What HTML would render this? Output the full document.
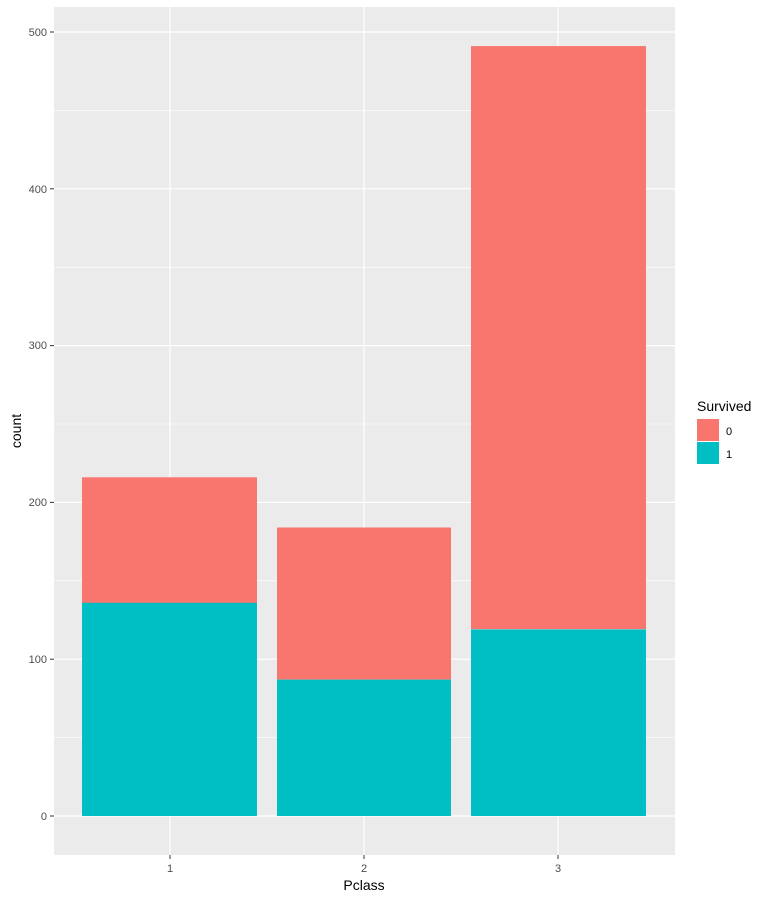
<!DOCTYPE html>
<html><head><meta charset="utf-8"><style>body{margin:0;background:#fff}</style></head>
<body>
<svg width="768" height="900" xmlns="http://www.w3.org/2000/svg" font-family="Liberation Sans, Arial, sans-serif">
<rect x="54" y="7" width="621" height="848" fill="#EBEBEB"/>
<g stroke="#fff" stroke-width="0.6">
<line x1="54" x2="675" y1="737.6" y2="737.6"/>
<line x1="54" x2="675" y1="580.8" y2="580.8"/>
<line x1="54" x2="675" y1="424" y2="424"/>
<line x1="54" x2="675" y1="267.2" y2="267.2"/>
<line x1="54" x2="675" y1="110.4" y2="110.4"/>
</g>
<g stroke="#fff" stroke-width="1.2">
<line x1="54" x2="675" y1="816" y2="816"/>
<line x1="54" x2="675" y1="659.2" y2="659.2"/>
<line x1="54" x2="675" y1="502.4" y2="502.4"/>
<line x1="54" x2="675" y1="345.6" y2="345.6"/>
<line x1="54" x2="675" y1="188.8" y2="188.8"/>
<line x1="54" x2="675" y1="32" y2="32"/>
<line x1="170" x2="170" y1="7" y2="855"/>
<line x1="364" x2="364" y1="7" y2="855"/>
<line x1="558" x2="558" y1="7" y2="855"/>
</g>
<g fill="#F8766D">
<rect x="82" y="477.3" width="175" height="126"/>
<rect x="277" y="527.5" width="174" height="152"/>
<rect x="471" y="46.1" width="175" height="583"/>
</g>
<g fill="#00BFC4">
<rect x="82" y="602.8" width="175" height="213.2"/>
<rect x="277" y="679.6" width="174" height="136.4"/>
<rect x="471" y="629.4" width="175" height="186.6"/>
</g>
<g stroke="#333" stroke-width="1">
<line x1="50" x2="54" y1="816" y2="816"/><line x1="50" x2="54" y1="659.2" y2="659.2"/>
<line x1="50" x2="54" y1="502.4" y2="502.4"/><line x1="50" x2="54" y1="345.6" y2="345.6"/>
<line x1="50" x2="54" y1="188.8" y2="188.8"/><line x1="50" x2="54" y1="32" y2="32"/>
<line x1="170" x2="170" y1="855" y2="859"/><line x1="364" x2="364" y1="855" y2="859"/>
<line x1="558" x2="558" y1="855" y2="859"/>
</g>
<g fill="#4D4D4D" font-size="11" text-anchor="end">
<text x="47" y="820">0</text><text x="47" y="663">100</text><text x="47" y="506">200</text>
<text x="47" y="349">300</text><text x="47" y="193">400</text><text x="47" y="36">500</text>
</g>
<g fill="#4D4D4D" font-size="11" text-anchor="middle">
<text x="170" y="872">1</text><text x="364" y="872">2</text><text x="558" y="872">3</text>
</g>
<text x="364" y="890" font-size="14" text-anchor="middle">Pclass</text>
<text x="21" y="431" font-size="14" text-anchor="middle" transform="rotate(-90 21 431)">count</text>
<text x="697" y="411" font-size="14">Survived</text>
<rect x="697" y="419" width="22" height="22" fill="#F8766D"/>
<rect x="697" y="442" width="22" height="22" fill="#00BFC4"/>
<text x="726" y="435" font-size="11">0</text>
<text x="726" y="458" font-size="11">1</text>
</svg>
</body></html>
